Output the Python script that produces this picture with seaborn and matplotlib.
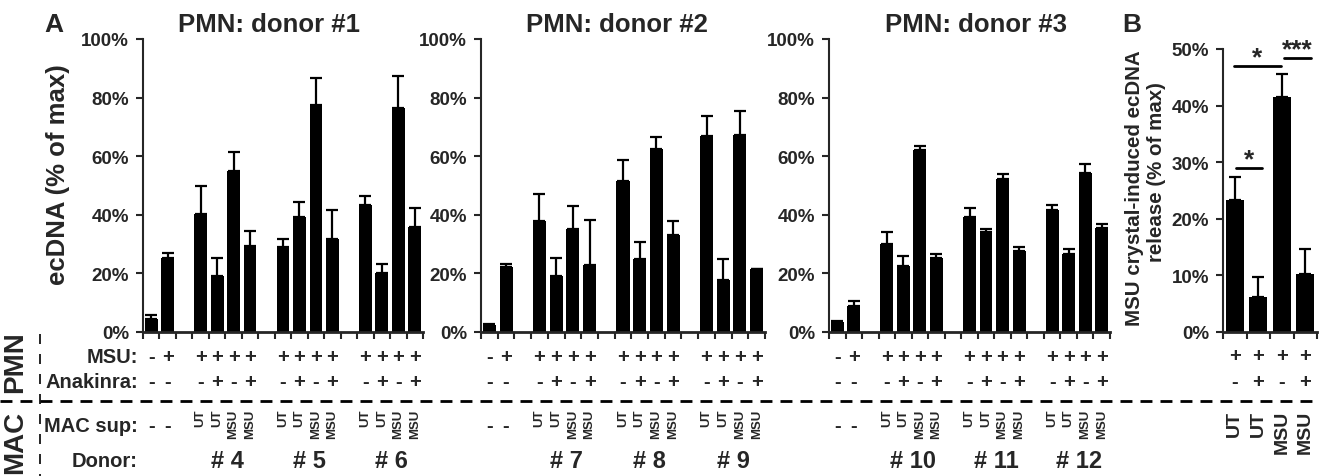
import numpy as np
import pandas as pd
import seaborn as sns
import matplotlib.pyplot as plt
from matplotlib.lines import Line2D
from matplotlib.transforms import blended_transform_factory

# ---- data -------------------------------------------------------------
pmn_titles = ["PMN: donor #1", "PMN: donor #2", "PMN: donor #3"]
mac_donors = [["# 4", "# 5", "# 6"], ["# 7", "# 8", "# 9"], ["# 10", "# 11", "# 12"]]

# bars in each A panel: 2 controls, then 3 MAC donors x 4 conditions
bar_ids = ["ctl-", "ctl+",
           "d1_UT", "d1_UT_ana", "d1_MSU", "d1_MSU_ana",
           "d2_UT", "d2_UT_ana", "d2_MSU", "d2_MSU_ana",
           "d3_UT", "d3_UT_ana", "d3_MSU", "d3_MSU_ana"]
msu_signs = ["-", "+"] + ["+", "+", "+", "+"] * 3
anakinra_signs = ["-", "-"] + ["-", "+", "-", "+"] * 3
macsup_labels = ["-", "-"] + ["UT", "UT", "MSU", "MSU"] * 3

donor1_mean = [4.3, 25.2, 40.3, 19.1, 55.1, 29.5, 29.0, 39.2, 77.5, 31.6, 43.5, 20.1, 76.5, 36.0]
donor1_err = [1.6, 1.8, 9.4, 6.2, 6.5, 4.9, 2.8, 5.1, 9.2, 10.1, 2.9, 3.2, 10.8, 6.3]
donor2_mean = [2.3, 22.2, 38.0, 19.0, 35.2, 23.0, 51.5, 25.0, 62.3, 33.0, 67.0, 17.8, 67.4, 21.4]
donor2_err = [0.3, 1.1, 9.0, 6.3, 7.8, 15.3, 7.3, 5.6, 4.1, 5.0, 6.6, 7.2, 7.9, 0.0]
donor3_mean = [3.4, 8.9, 30.1, 22.4, 62.0, 25.2, 39.4, 34.1, 52.3, 27.8, 41.5, 26.5, 54.2, 35.5]
donor3_err = [0.4, 1.6, 4.2, 3.7, 1.6, 1.4, 2.9, 1.1, 1.7, 1.2, 2.0, 1.9, 3.2, 1.2]

b_ids = ["UT", "UT_ana", "MSU", "MSU_ana"]
b_msu = ["+", "+", "+", "+"]
b_anakinra = ["-", "+", "-", "+"]
b_macsup = ["UT", "UT", "MSU", "MSU"]
b_mean = [23.4, 6.1, 41.5, 10.3]
b_err = [4.0, 3.7, 4.1, 4.3]

# ---- style ------------------------------------------------------------
sns.set_style("ticks")
plt.rcParams["font.family"] = ["Liberation Sans", "DejaVu Sans"]
plt.rcParams["font.weight"] = "bold"

W, H = 1320, 477
fig = plt.figure(figsize=(W / 100, H / 100), dpi=100)


def fy(ypix):
    return 1 - ypix / H


def add_axes_px(left, top, right, bottom):
    return fig.add_axes([left / W, 1 - bottom / H, (right - left) / W, (bottom - top) / H])


def style_axes(ax, n_slots, ymax, ystep):
    ax.set_xlim(-0.5, n_slots - 0.5)
    ax.set_ylim(0, ymax)
    ax.set_xticks(np.arange(-0.5, n_slots))
    ax.set_xticklabels([])
    yt = np.arange(0, ymax + 1, ystep)
    ax.set_yticks(yt)
    ax.set_yticklabels([f"{int(v)}%" for v in yt], fontsize=13.5, fontweight="bold")
    ax.set_xlabel("")
    ax.set_ylabel("")
    sns.despine(ax=ax)
    ax.spines["left"].set_linewidth(1.5)
    ax.spines["bottom"].set_linewidth(2)
    ax.tick_params(axis="both", length=5, width=1.5, direction="out", pad=5)


def draw_bars(ax, ids, order, mean, err):
    df = pd.DataFrame({"cond": ids, "value": mean})
    sns.barplot(data=df, x="cond", y="value", order=order, color="black",
                saturation=1, width=0.78, errorbar=None, edgecolor="black",
                linewidth=0, ax=ax)
    xpos = [order.index(b) for b in ids]
    ax.errorbar(xpos, mean, yerr=[np.zeros(len(err)), err], fmt="none",
                ecolor="black", elinewidth=1.6, capsize=4, capthick=1.6)
    return xpos


# A panels
order_a = bar_ids[:2] + ["gap1"] + bar_ids[2:6] + ["gap2"] + bar_ids[6:10] + ["gap3"] + bar_ids[10:]
panel_px = [(143, 423), (481, 765), (829, 1110)]
title_x = [269, 617, 976]
means = [donor1_mean, donor2_mean, donor3_mean]
errs = [donor1_err, donor2_err, donor3_err]

for i in range(3):
    ax = add_axes_px(panel_px[i][0], 40, panel_px[i][1], 333)
    xpos = draw_bars(ax, bar_ids, order_a, means[i], errs[i])
    style_axes(ax, len(order_a), 100, 20)
    fig.text(title_x[i] / W, fy(25), pmn_titles[i], ha="center", va="center",
             fontsize=18.5, fontweight="bold")
    tr = blended_transform_factory(ax.transData, fig.transFigure)
    for x, m, a, s in zip(xpos, msu_signs, anakinra_signs, macsup_labels):
        ax.text(x, fy(358), m, transform=tr, ha="center", va="center", fontsize=14.5,
                fontweight="bold", clip_on=False)
        ax.text(x, fy(383), a, transform=tr, ha="center", va="center", fontsize=14.5,
                fontweight="bold", clip_on=False)
        if s == "-":
            ax.text(x, fy(427), s, transform=tr, ha="center", va="center", fontsize=14.5,
                    fontweight="bold", clip_on=False)
        else:
            ax.text(x, fy(410), s, transform=tr, ha="center", va="top", rotation=90,
                    fontsize=9.5, fontweight="bold", clip_on=False)
    for g, name in enumerate(mac_donors[i]):
        gx = np.mean(xpos[2 + 4 * g: 6 + 4 * g]) + 0.1
        ax.text(gx, fy(462), name, transform=tr, ha="center", va="center",
                fontsize=17, fontweight="bold", clip_on=False)

# B panel
axb = add_axes_px(1223, 50, 1317, 333)
xb = draw_bars(axb, b_ids, b_ids, b_mean, b_err)
style_axes(axb, len(b_ids), 50, 10)
trb = blended_transform_factory(axb.transData, fig.transFigure)
for x, m, a, s in zip(xb, b_msu, b_anakinra, b_macsup):
    axb.text(x, fy(356), m, transform=trb, ha="center", va="center", fontsize=14.5,
             fontweight="bold", clip_on=False)
    axb.text(x, fy(383), a, transform=trb, ha="center", va="center", fontsize=14.5,
             fontweight="bold", clip_on=False)
    axb.text(x, fy(411), s, transform=trb, ha="center", va="top", rotation=90,
             fontsize=14, fontweight="bold", clip_on=False)

# significance bars
for x0, x1, y, lab in [(-0.05, 1.95, 47, "*"), (2.1, 3.25, 48.4, "***"), (0.05, 1.15, 29, "*")]:
    axb.plot([x0, x1], [y, y], color="black", lw=2, clip_on=False)
    axb.text((x0 + x1) / 2, y - 0.6, lab, ha="center", va="bottom", fontsize=19,
             fontweight="bold", clip_on=False)

# labels
fig.text(58 / W, fy(175), "ecDNA (% of max)", rotation=90, ha="center", va="center",
         fontsize=18.5, fontweight="bold")
fig.text(1134 / W, fy(188), "MSU crystal-induced ecDNA", rotation=90,
         ha="center", va="center", fontsize=14.8, fontweight="bold")
fig.text(1157 / W, fy(172), "release (% of max)", rotation=90,
         ha="center", va="center", fontsize=14.8, fontweight="bold")
fig.text(54 / W, fy(25), "A", ha="center", va="center", fontsize=19, fontweight="bold")
fig.text(1132 / W, fy(25), "B", ha="center", va="center", fontsize=19, fontweight="bold")

for label, ypix in [("MSU:", 358), ("Anakinra:", 383), ("MAC sup:", 427), ("Donor:", 462)]:
    fig.text(138 / W, fy(ypix), label, ha="right", va="center", fontsize=14.5, fontweight="bold")

fig.text(15 / W, fy(362), "PMN", rotation=90, ha="center", va="center", fontsize=20,
         fontweight="bold")
fig.text(15 / W, fy(442), "MAC", rotation=90, ha="center", va="center", fontsize=20,
         fontweight="bold")

# dashed separators
fig.add_artist(Line2D([0, 1], [fy(402), fy(402)], transform=fig.transFigure,
                      color="black", lw=2, ls=(0, (4.3, 2.9))))
fig.add_artist(Line2D([40 / W, 40 / W], [fy(335), 0], transform=fig.transFigure,
                      color="black", lw=1.2, ls=(0, (6, 6))))

fig.savefig("out.png", dpi=100)
